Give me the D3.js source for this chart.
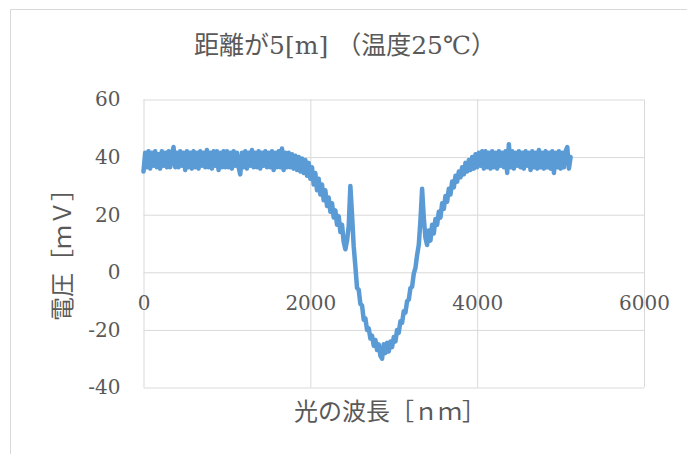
<!DOCTYPE html>
<html>
<head>
<meta charset="utf-8">
<script src="https://cdn.jsdelivr.net/npm/d3@7"></script>
<style>
  html, body { margin: 0; padding: 0; background: #ffffff; }
  svg { display: block; }
</style>
</head>
<body>
<svg id="chart" width="687" height="454"></svg>
<script>
// Chart text
const chartTitle = "距離が5[m] （温度25℃）";
const xTitle = "光の波長［ｎｍ］";
const yTitle = "電圧［ｍＶ］";

// Axis ticks
const xTicks = [0, 2000, 4000, 6000];
const yTicks = [-40, -20, 0, 20, 40, 60];

// Measured voltage [mV], one sample every 20 nm starting at 0 nm
const sampleStep = 20;
const voltage = [
  35, 41.5, 36.5, 42, 36, 41.5, 37, 42, 36.5, 41,              // 0
  36, 42, 37, 41.5, 36.5, 42, 36.5, 41, 43.5, 36.5,            // 200
  41.5, 36.5, 42, 37, 41.5, 35.5, 42, 36.5, 41.5, 36,          // 400
  42, 36.5, 41.5, 36, 42, 37, 41.5, 36.5, 42.5, 36.5,          // 600
  41.5, 36, 42, 37, 42, 35.5, 41.5, 36.5, 42, 36.5,            // 800
  42, 36.5, 41.5, 36, 42, 37, 41.5, 36.5, 34, 41.5,            // 1000
  36.5, 42, 36, 41.5, 37, 42.5, 36.5, 41.5, 36.5, 42,          // 1200
  36, 41.5, 37, 42, 36.5, 41.5, 36.5, 42, 35.5, 41.5,          // 1400
  36.5, 42, 36.5, 43, 35.5, 41.5, 36.5, 41.5, 36.5, 41,        // 1600
  36, 40.5, 35.5, 40, 35, 39.5, 34.5, 39, 33.5, 38,            // 1800
  32.5, 36.5, 30.5, 34.5, 28.5, 32.5, 27, 30.5, 25, 28.5,      // 2000
  23, 26, 21, 24, 19, 21.5, 16.5, 19.5, 14, 16.5,              // 2200
  10.5, 8, 11, 16, 30, 20, 9, 2, -5.5, -6,                     // 2400
  -11, -11.5, -16.5, -16, -20, -19.5, -23, -22, -25.5, -23.5,  // 2600
  -27, -25, -29, -30, -25, -28, -24.5, -27.5, -24, -26,        // 2800
  -22.5, -24, -20, -21, -17, -17.5, -13.5, -14, -10, -9.5,     // 3000
  -5.5, -5, -0.5, 1.5, 6, 9.5, 18, 29, 19, 12,                 // 3200
  9.5, 14.5, 11, 16.5, 13.5, 18.5, 16.5, 21, 19, 24,           // 3400
  22, 26.5, 24.5, 29, 27, 31.5, 29.5, 33.5, 31.5, 35,          // 3600
  33, 36.5, 34, 38, 35, 39, 35.5, 40, 36, 41,                  // 3800
  36.5, 41.5, 37, 42, 36, 42, 36.5, 41.5, 36, 42,              // 4000
  36.5, 41.5, 36, 42, 37, 41.5, 36.5, 42, 34.5, 44.5,          // 4200
  36.5, 42, 36, 41.5, 37, 42, 36.5, 41.5, 36, 42,              // 4400
  37, 41.5, 35.5, 42, 36.5, 41.5, 36, 42.5, 36.5, 41.5,        // 4600
  36, 42, 36.5, 41.5, 36, 42, 34.5, 41.5, 36.5, 42,            // 4800
  36, 41.5, 36.5, 42, 43.5, 36, 40                             // 5000
];

const points = voltage.map((v, i) => ({ w: i * sampleStep, v }));

const svg = d3.select("#chart");
const textColor = "#595959";
const gridColor = "#d9d9d9";
const numFont = "'DejaVu Serif', 'Liberation Serif', serif";
const cjkFont = "'DejaVu Serif', 'Noto Sans CJK JP', sans-serif";
const plainNumber = d => String(d);

// Outer chart frame
svg.append("path")
  .attr("d", "M10.5,454 L10.5,9.5 L687,9.5")
  .attr("fill", "none")
  .attr("stroke", gridColor)
  .attr("stroke-width", 1);

const plot = { left: 143.5, right: 644, top: 99.5, bottom: 387.5 };

const x = d3.scaleLinear().domain([0, 6000]).range([plot.left, plot.right]);
const y = d3.scaleLinear().domain([-40, 60]).range([plot.bottom, plot.top]);

// Horizontal gridlines with value labels
const yAxis = svg.append("g")
  .attr("transform", `translate(${plot.left},0)`)
  .call(d3.axisLeft(y).tickValues(yTicks).tickFormat(plainNumber)
    .tickSize(-(plot.right - plot.left)).tickPadding(23));
yAxis.select(".domain").remove();
yAxis.selectAll("line").attr("stroke", gridColor).attr("stroke-width", 1);
yAxis.selectAll("text")
  .attr("fill", textColor)
  .style("font-family", numFont)
  .style("font-size", "20px");

// Vertical gridlines
const xGrid = svg.append("g")
  .attr("transform", `translate(0,${plot.bottom})`)
  .call(d3.axisBottom(x).tickValues(xTicks).tickSize(-(plot.bottom - plot.top)).tickFormat(""));
xGrid.select(".domain").remove();
xGrid.selectAll("line").attr("stroke", gridColor).attr("stroke-width", 1);

// Wavelength labels sit under the zero line
const xAxis = svg.append("g")
  .attr("transform", `translate(0,${y(0)})`)
  .call(d3.axisBottom(x).tickValues(xTicks).tickFormat(plainNumber).tickSize(0).tickPadding(24));
xAxis.select(".domain").remove();
xAxis.selectAll("text")
  .attr("fill", textColor)
  .style("font-family", numFont)
  .style("font-size", "20px");

// Data line
const line = d3.line().x(d => x(d.w)).y(d => y(d.v));
svg.append("path")
  .datum(points)
  .attr("d", line)
  .attr("fill", "none")
  .attr("stroke", "#5b9bd5")
  .attr("stroke-width", 4.5)
  .attr("stroke-linejoin", "round")
  .attr("stroke-linecap", "round");

// Title
svg.append("text")
  .attr("x", 345)
  .attr("y", 54)
  .attr("text-anchor", "middle")
  .attr("fill", textColor)
  .style("font-family", cjkFont)
  .style("font-size", "25px")
  .text(chartTitle);

// Axis titles
svg.append("text")
  .attr("x", 390)
  .attr("y", 420)
  .attr("text-anchor", "middle")
  .attr("fill", textColor)
  .style("font-family", "'Noto Sans CJK JP', sans-serif")
  .style("font-size", "24px")
  .text(xTitle);

svg.append("text")
  .attr("transform", "translate(71,249) rotate(-90)")
  .attr("text-anchor", "middle")
  .attr("fill", textColor)
  .style("font-family", "'Noto Sans CJK JP', sans-serif")
  .style("font-size", "24px")
  .text(yTitle);
</script>
</body>
</html>
